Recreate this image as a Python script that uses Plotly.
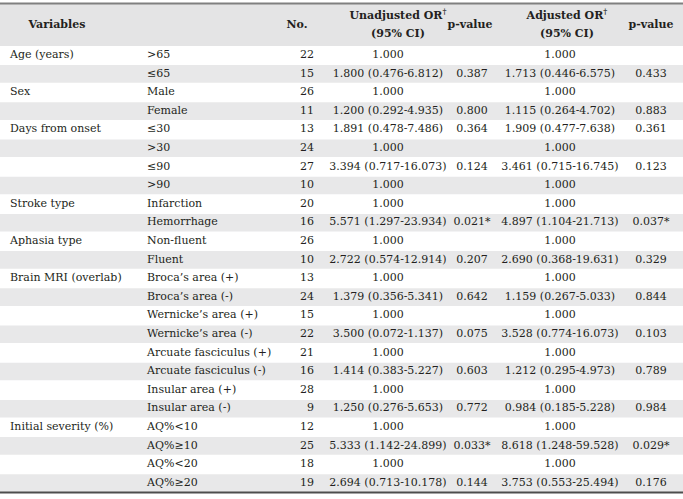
import plotly.graph_objects as go

# ---------------- data ----------------
groups = ["Age (years)", "", "Sex", "", "Days from onset", "", "", "", "Stroke type", "",
          "Aphasia type", "", "Brain MRI (overlab)", "", "", "", "", "", "", "",
          "Initial severity (%)", "", "", ""]
subgroups = [">65", "≤65", "Male", "Female", "≤30", ">30", "≤90", ">90", "Infarction", "Hemorrhage",
             "Non-fluent", "Fluent", "Broca’s area (+)", "Broca’s area (-)", "Wernicke’s area (+)",
             "Wernicke’s area (-)", "Arcuate fasciculus (+)", "Arcuate fasciculus (-)",
             "Insular area (+)", "Insular area (-)", "AQ%<10", "AQ%≥10", "AQ%<20", "AQ%≥20"]
n_obs = [22, 15, 26, 11, 13, 24, 27, 10, 20, 16, 26, 10, 13, 24, 15, 22, 21, 16, 28, 9, 12, 25, 18, 19]
unadj_or = ["1.000", "1.800 (0.476-6.812)", "1.000", "1.200 (0.292-4.935)", "1.891 (0.478-7.486)",
            "1.000", "3.394 (0.717-16.073)", "1.000", "1.000", "5.571 (1.297-23.934)", "1.000",
            "2.722 (0.574-12.914)", "1.000", "1.379 (0.356-5.341)", "1.000", "3.500 (0.072-1.137)",
            "1.000", "1.414 (0.383-5.227)", "1.000", "1.250 (0.276-5.653)", "1.000",
            "5.333 (1.142-24.899)", "1.000", "2.694 (0.713-10.178)"]
unadj_p = ["", "0.387", "", "0.800", "0.364", "", "0.124", "", "", "0.021*", "", "0.207", "",
           "0.642", "", "0.075", "", "0.603", "", "0.772", "", "0.033*", "", "0.144"]
adj_or = ["1.000", "1.713 (0.446-6.575)", "1.000", "1.115 (0.264-4.702)", "1.909 (0.477-7.638)",
          "1.000", "3.461 (0.715-16.745)", "1.000", "1.000", "4.897 (1.104-21.713)", "1.000",
          "2.690 (0.368-19.631)", "1.000", "1.159 (0.267-5.033)", "1.000", "3.528 (0.774-16.073)",
          "1.000", "1.212 (0.295-4.973)", "1.000", "0.984 (0.185-5.228)", "1.000",
          "8.618 (1.248-59.528)", "1.000", "3.753 (0.553-25.494)"]
adj_p = ["", "0.433", "", "0.883", "0.361", "", "0.123", "", "", "0.037*", "", "0.329", "",
         "0.844", "", "0.103", "", "0.789", "", "0.984", "", "0.029*", "", "0.176"]
headers = ["<b>Variables</b>", "<b>No.</b>", "<b>Unadjusted OR<sup>†</sup></b>", "<b>(95% CI)</b>",
           "<b>p-value</b>", "<b>Adjusted OR<sup>†</sup></b>", "<b>(95% CI)</b>", "<b>p-value</b>"]

# ---------------- layout constants ----------------
W, H = 683, 499
TOP = 3.5
HEAD_B = 46
ROW_H = 18.6
FONT = "DejaVu Serif"
FS = 11
TXT = "#231f20"
BAND = "#e8e8e9"
HEAD_BG = "#e4e4e5"

nrows = len(subgroups)
ys = [HEAD_B + (i + 0.5) * ROW_H for i in range(nrows)]
bottom = HEAD_B + nrows * ROW_H

fig = go.Figure()


def add_col(x, texts, pos):
    pts = [(y, t) for y, t in zip(ys, texts) if t != ""]
    fig.add_trace(go.Scatter(x=[x] * len(pts), y=[p[0] for p in pts], text=[p[1] for p in pts],
                             mode="text", textposition=pos, hoverinfo="skip", showlegend=False,
                             textfont=dict(family=FONT, size=FS, color=TXT), cliponaxis=False))


add_col(10, groups, "middle right")
add_col(147, subgroups, "middle right")
add_col(314, [str(v) for v in n_obs], "middle left")
add_col(388, unadj_or, "middle center")
add_col(472, unadj_p, "middle center")
add_col(560, adj_or, "middle center")
add_col(651, adj_p, "middle center")

# header
hy_mid = (TOP + HEAD_B) / 2
hy1, hy2 = hy_mid - 9, hy_mid + 9
fig.add_trace(go.Scatter(
    x=[57, 297, 398, 398, 470, 567, 567, 651],
    y=[hy_mid, hy_mid, hy1, hy2, hy_mid, hy1, hy2, hy_mid],
    text=headers, mode="text", textposition="middle center", hoverinfo="skip",
    showlegend=False, textfont=dict(family=FONT, size=FS, color=TXT), cliponaxis=False))

shapes = [dict(type="rect", xref="x", yref="y", x0=0, x1=W, y0=TOP, y1=HEAD_B,
               fillcolor=HEAD_BG, line=dict(width=0), layer="below")]
for i in range(1, nrows, 2):
    shapes.append(dict(type="rect", xref="x", yref="y", x0=0, x1=W,
                       y0=HEAD_B + i * ROW_H + 0.5, y1=HEAD_B + (i + 1) * ROW_H - 0.5,
                       fillcolor=BAND, line=dict(width=0), layer="below"))
shapes.append(dict(type="line", xref="x", yref="y", x0=0, x1=W, y0=TOP, y1=TOP,
                   line=dict(color="#808080", width=2)))
shapes.append(dict(type="line", xref="x", yref="y", x0=0, x1=W, y0=bottom, y1=bottom,
                   line=dict(color="#4d4d4d", width=2)))

fig.update_layout(
    width=W, height=H, margin=dict(l=0, r=0, t=0, b=0),
    paper_bgcolor="white", plot_bgcolor="white", shapes=shapes,
    xaxis=dict(range=[0, W], visible=False, fixedrange=True),
    yaxis=dict(range=[H, 0], visible=False, fixedrange=True),
)
fig.write_html("out.html", config={"displayModeBar": False},
               post_script="document.body.style.margin='0';document.body.style.overflow='hidden';")
